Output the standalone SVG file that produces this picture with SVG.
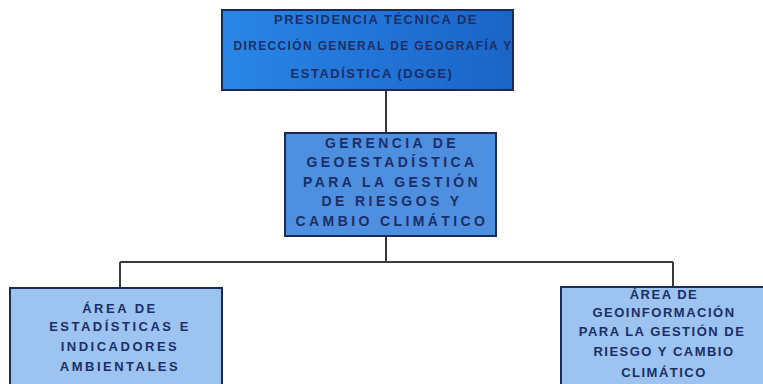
<svg xmlns="http://www.w3.org/2000/svg" width="763" height="384" viewBox="0 0 763 384">
<style>
.box{stroke:#1c2a55;stroke-width:2}
.t{font-family:"Liberation Sans",Arial,sans-serif;font-weight:bold;font-size:13px;fill:#1b2e66;text-anchor:middle;letter-spacing:1.5px}
.m{font-size:14px;letter-spacing:3.4px}
.b{letter-spacing:2.5px}
.c{stroke:#3a3a3a;stroke-width:2;fill:none}
</style>
<defs>
<linearGradient id="g1" x1="0" y1="0" x2="1" y2="0">
<stop offset="0" stop-color="#2a86e6"/><stop offset="1" stop-color="#1a64c8"/>
</linearGradient>
</defs>
<rect width="763" height="384" fill="#ffffff"/>
<g id="connectors">
<path class="c" d="M386 90 V133"/>
<path class="c" d="M386 236 V262 M120 262 H673 M120 262 V288 M673 262 V287"/>
</g>
<g id="top">
<rect class="box" x="222" y="10" width="291" height="80" fill="url(#g1)"/>
<text class="t" x="376" y="24" letter-spacing="0.5">PRESIDENCIA TÉCNICA DE</text>
<text class="t" x="373" y="50" letter-spacing="0" textLength="279" lengthAdjust="spacingAndGlyphs">DIRECCIÓN GENERAL DE GEOGRAFÍA Y</text>
<text class="t" x="372" y="78" letter-spacing="2">ESTADÍSTICA (DGGE)</text>
</g>
<g id="gerencia">
<rect class="box" x="285" y="133" width="211" height="103" fill="#4f8fe0"/>
<text class="t m" x="392" y="148">GERENCIA DE</text>
<text class="t m" x="392" y="167">GEOESTADÍSTICA</text>
<text class="t m" x="392" y="187">PARA LA GESTIÓN</text>
<text class="t m" x="392" y="206">DE RIESGOS Y</text>
<text class="t m" x="392" y="226">CAMBIO CLIMÁTICO</text>
</g>
<g id="area1">
<rect class="box" x="10" y="288" width="212" height="100" fill="#9dc3f1"/>
<text class="t b" x="120" y="313">ÁREA DE</text>
<text class="t b" x="120" y="331">ESTADÍSTICAS E</text>
<text class="t b" x="120" y="351">INDICADORES</text>
<text class="t b" x="120" y="371">AMBIENTALES</text>
</g>
<g id="area2">
<rect class="box" x="561" y="287" width="204" height="100" fill="#9dc3f1"/>
<text class="t" x="664" y="299" letter-spacing="2">ÁREA DE</text>
<text class="t" x="664" y="317" letter-spacing="2">GEOINFORMACIÓN</text>
<text class="t" x="662" y="336" letter-spacing="1.5">PARA LA GESTIÓN DE</text>
<text class="t" x="664" y="356" letter-spacing="2">RIESGO Y CAMBIO</text>
<text class="t" x="664" y="377" letter-spacing="2">CLIMÁTICO</text>
</g>
</svg>
